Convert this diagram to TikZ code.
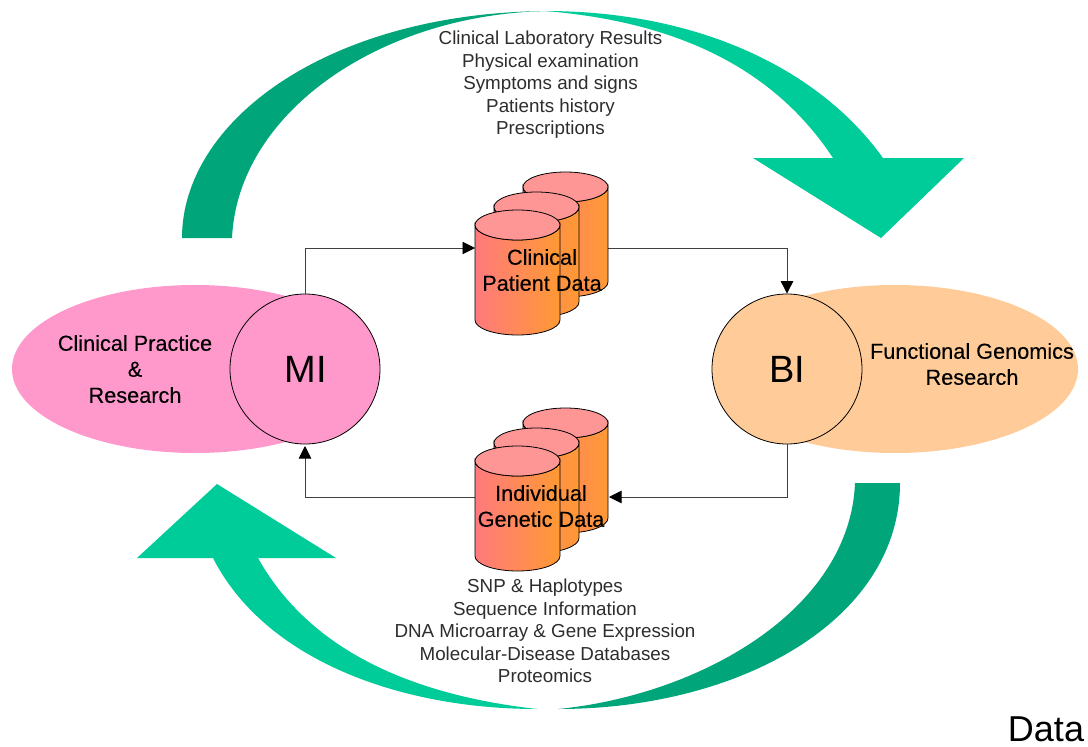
\documentclass[tikz,border=0pt]{standalone}
\usepackage{fontspec}
\setmainfont{Liberation Sans}
\newfontfamily\heavyfont[FakeBold=0.25]{Liberation Sans}
\usetikzlibrary{shapes.geometric,arrows.meta}
\definecolor{darkteal}{RGB}{0,166,122}
\definecolor{lightteal}{RGB}{0,204,153}
\definecolor{pinkblob}{RGB}{255,153,204}
\definecolor{peachblob}{RGB}{255,204,153}
\definecolor{cyltop}{RGB}{255,150,150}
\definecolor{cylleft}{RGB}{255,122,125}
\definecolor{cylright}{RGB}{255,153,51}
\definecolor{listgrey}{RGB}{45,45,45}
\tikzset{
  blob/.style={ellipse,minimum width=366pt,minimum height=168pt,inner sep=0pt},
  hub/.style={circle,draw=black,line width=0.8pt,minimum size=150pt,inner sep=0pt,font=\fontsize{38}{40}\selectfont},
  boldlabel/.style={align=center,font=\heavyfont\fontsize{21.7}{26}\selectfont,text=black},
  listlabel/.style={align=center,font=\fontsize{18.8}{22.5}\selectfont,text=listgrey},
  flow/.style={draw=black!75,line width=0.9pt,-{Triangle[length=12.5pt,width=12.5pt,color=black]}},
  cylline/.style={draw=black,line width=0.8pt},
}
\newcommand{\dbdisk}[2]{%
  \path[cylline,left color=cylleft,right color=cylright]
    (#1,#2) -- ({#1},{#2+95}) arc[start angle=180,end angle=360,x radius=42.5pt,y radius=15pt]
    -- ({#1+85},#2) arc[start angle=0,end angle=-180,x radius=42.5pt,y radius=15pt] -- cycle;
  \draw[cylline,fill=cyltop] ({#1+42.5},#2) ellipse[x radius=42.5pt,y radius=15pt];
}
\begin{document}
\begin{tikzpicture}[x=1pt,y=-1pt]
\useasboundingbox (0,0) rectangle (1088,747);
\fill[white] (0,0) rectangle (1088,747);

% upper sweep
\fill[darkteal] (182,238) .. controls (182,120) and (330,11) .. (552,11)
  .. controls (385,12) and (238,110) .. (232,238) -- cycle;
\fill[lightteal] (545,11) .. controls (700,11) and (820,70) .. (883,158)
  -- (964,158) -- (881,238) -- (753,158) -- (833,158)
  .. controls (775,70) and (680,22) .. (545,11) -- cycle;

% lower sweep
\fill[darkteal] (900,483) .. controls (900,620) and (740,709) .. (558,709)
  .. controls (700,695) and (850,610) .. (855,483) -- cycle;
\fill[lightteal] (537,709) .. controls (400,709) and (265,660) .. (213,558)
  -- (137,558) -- (217,484) -- (336,558) -- (258,558)
  .. controls (315,660) and (430,697) .. (537,709) -- cycle;

% ellipses and hubs
\node[blob,fill=pinkblob] (practice) at (195,369) {};
\node[blob,fill=peachblob] (genomics) at (895,369) {};
\node[hub,fill=pinkblob] (mi) at (305,369) {\hspace{2pt}MI};
\node[hub,fill=peachblob] (bi) at (787,369) {BI};

% named ends of connectors on the stacks
\coordinate (clinIn) at (475,248);
\coordinate (clinOut) at (608,248);
\coordinate (geneIn) at (609,497);
\coordinate (geneOut) at (475,497);
\coordinate (miEntry) at (305,446);

% connectors
\draw[flow] (mi.north) |- (clinIn);
\draw[flow] (clinOut) -| (bi.north);
\draw[flow] (bi.south) |- (geneIn);
\draw[flow] (geneOut) -| (miEntry);

% stacks
\dbdisk{523}{187}
\dbdisk{494}{207}
\dbdisk{475}{225}
\dbdisk{523}{423}
\dbdisk{494}{443}
\dbdisk{475}{461}

% labels
\node[listlabel] (clinlist) at (550.5,85) {Clinical Laboratory Results\\Physical examination\\Symptoms and signs\\Patients history\\Prescriptions};
\node[listlabel] (genelist) at (545,631) {SNP \& Haplotypes\\Sequence Information\\DNA Microarray \& Gene Expression\\Molecular-Disease Databases\\Proteomics};
\node[boldlabel] (clin) at (542,270) {Clinical\\Patient Data};
\node[boldlabel] (gene) at (541,506) {Individual\\Genetic Data};
\node[boldlabel] (practicetext) at (135,369) {Clinical Practice\\\&\\Research};
\node[boldlabel] (genomicstext) at (972,364) {Functional Genomics\\Research};
\node[font=\fontsize{36}{38}\selectfont,text=black] (data) at (1046,729) {Data};
\end{tikzpicture}
\end{document}
